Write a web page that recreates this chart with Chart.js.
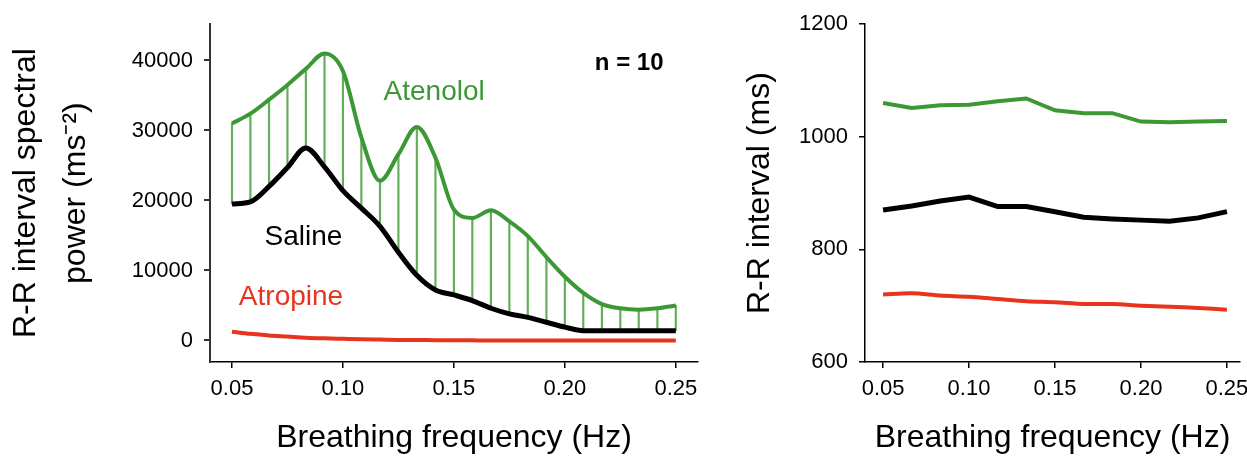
<!DOCTYPE html>
<html>
<head>
<meta charset="utf-8">
<script src="https://cdn.jsdelivr.net/npm/chart.js@4.4.0/dist/chart.umd.min.js"></script>
<style>
html, body { margin: 0; padding: 0; background: #fff; overflow: hidden; width: 1247px; height: 460px; }
#left { position: absolute; left: 0; top: 0; width: 720px; height: 460px; }
#right { position: absolute; left: 730px; top: 0; width: 550px; height: 460px; }
</style>
</head>
<body>
<div id="left"><canvas id="spectral"></canvas></div>
<div id="right"><canvas id="rrinterval"></canvas></div>
<script>
// left panel - spectral power, one sample every 1/120 Hz
var freqSpec = [0.0500, 0.0583, 0.0667, 0.0750, 0.0833, 0.0917, 0.1000, 0.1083, 0.1167, 0.1250,
                0.1333, 0.1417, 0.1500, 0.1583, 0.1667, 0.1750, 0.1833, 0.1917, 0.2000, 0.2083,
                0.2167, 0.2250, 0.2333, 0.2417, 0.2500];
var atenololSpec = [31000, 32400, 34400, 36500, 38800, 41000, 38500, 29000, 22800, 26600,
                    30500, 26100, 18700, 17500, 18600, 17000, 14900, 11900, 9100, 6800,
                    5200, 4600, 4400, 4600, 5000];
var salineSpec = [19500, 19800, 22000, 24700, 27500, 24800, 21400, 18900, 16300, 12600,
                  9300, 7200, 6500, 5700, 4600, 3800, 3300, 2600, 1900, 1400,
                  1400, 1400, 1400, 1400, 1400];
var atropineSpec = [1250, 950, 720, 560, 400, 300, 230, 160, 120, 80,
                    60, 40, 20, 10, 0, 0, 0, 0, 0, 0,
                    0, 0, 0, 0, 0];

// right panel - mean R-R interval
var freqRR = [0.05, 0.0667, 0.0833, 0.10, 0.1167, 0.1333, 0.15, 0.1667, 0.1833, 0.20, 0.2167, 0.2333, 0.25];
var atenololRR = [1060, 1051, 1056, 1057, 1063, 1068, 1047, 1042, 1042, 1027, 1026, 1027, 1028];
var salineRR = [870, 877, 886, 893, 876, 876, 867, 857, 854, 852, 850, 856, 867];
var atropineRR = [720, 722, 718, 716, 712, 708, 706, 703, 703, 700, 698, 696, 693];

// tick labels
var freqTicks = [0.05, 0.10, 0.15, 0.20, 0.25];
var specTicks = [0, 10000, 20000, 30000, 40000];
var rrTicks = [600, 800, 1000, 1200];

var GREEN = 'rgb(60,152,52)';
var HATCH = 'rgba(70,160,60,0.85)';
var RED = 'rgb(232,52,30)';
var FONT = "'Liberation Sans', Arial, sans-serif";

function pts(xs, ys) {
	return xs.map(function (x, i) { return { x: x, y: ys[i] }; });
}

// text labels placed in data coordinates
var textLabels = {
	id: 'textLabels',
	afterDatasetsDraw: function (chart, args, opts) {
		var ctx = chart.ctx;
		var xs = chart.scales.x, ys = chart.scales.y;
		ctx.save();
		ctx.textAlign = 'center';
		ctx.textBaseline = 'middle';
		(opts.items || []).forEach(function (t) {
			ctx.font = t.font;
			ctx.fillStyle = t.color;
			ctx.fillText(t.text, xs.getPixelForValue(t.x), ys.getPixelForValue(t.y));
		});
		ctx.restore();
	}
};

function xAxis(min, max) {
	return {
		type: 'linear',
		min: min,
		max: max,
		offset: false,
		afterBuildTicks: function (axis) { axis.ticks = freqTicks.map(function (v) { return { value: v }; }); },
		afterFit: function (axis) { axis.height = 98; },
		grid: { offset: false, drawOnChartArea: false, drawTicks: true, tickLength: 6, color: '#000', lineWidth: 1.5 },
		border: { display: true, color: '#000', width: 1.5 },
		ticks: {
			padding: 8,
			color: '#000',
			font: { family: FONT, size: 22 },
			callback: function (v) { return v.toFixed(2); }
		},
		title: {
			display: true,
			text: 'Breathing frequency (Hz)',
			color: '#000',
			font: { family: FONT, size: 32 },
			padding: { top: 0, bottom: 3 }
		}
	};
}

var lineOpts = { pointRadius: 0, fill: false, order: 1 };

new Chart(document.getElementById('spectral'), {
	data: {
		datasets: [
			Object.assign({ type: 'line', label: 'Atenolol', data: pts(freqSpec, atenololSpec), borderColor: GREEN, borderWidth: 4, cubicInterpolationMode: 'monotone' }, lineOpts),
			Object.assign({ type: 'line', label: 'Saline', data: pts(freqSpec, salineSpec), borderColor: '#000', borderWidth: 5, cubicInterpolationMode: 'monotone' }, lineOpts),
			Object.assign({ type: 'line', label: 'Atropine', data: pts(freqSpec, atropineSpec), borderColor: RED, borderWidth: 4, cubicInterpolationMode: 'monotone' }, lineOpts),
			{
				// hatching between saline and atenolol
				type: 'bar',
				label: 'difference',
				data: freqSpec.map(function (f, i) { return { x: f, y: [salineSpec[i], atenololSpec[i]] }; }),
				backgroundColor: HATCH,
				barThickness: 1.5,
				grouped: false,
				order: 10
			}
		]
	},
	options: {
		responsive: true,
		maintainAspectRatio: false,
		animation: false,
		layout: { padding: { left: 0, right: 22, top: 17, bottom: 0 } },
		plugins: {
			legend: { display: false },
			tooltip: { enabled: false },
			textLabels: {
				items: [
					{ text: 'n = 10', x: 0.229, y: 39650, color: '#000', font: 'bold 24px ' + FONT },
					{ text: 'Atenolol', x: 0.1411, y: 35400, color: GREEN, font: '28px ' + FONT },
					{ text: 'Saline', x: 0.0822, y: 14700, color: '#000', font: '28px ' + FONT },
					{ text: 'Atropine', x: 0.0766, y: 6150, color: RED, font: '28px ' + FONT }
				]
			}
		},
		scales: {
			x: xAxis(0.0401, 0.26),
			y: {
				type: 'linear',
				min: -3080,
				max: 45180,
				afterBuildTicks: function (axis) { axis.ticks = specTicks.map(function (v) { return { value: v }; }); },
				afterFit: function (axis) { axis.width = 210; },
				grid: { drawOnChartArea: false, drawTicks: true, tickLength: 6, color: '#333', lineWidth: 2 },
				border: { display: true, color: '#333', width: 2 },
				ticks: {
					padding: 11,
					color: '#000',
					font: { family: FONT, size: 22 },
					callback: function (v) { return String(v); }
				},
				title: {
					display: true,
					text: ['R-R interval spectral', 'power (ms\u207B\u00B2)'],
					color: '#000',
					font: { family: FONT, size: 32, lineHeight: 1.5625 },
					padding: { top: 1, bottom: 0 }
				}
			}
		}
	},
	plugins: [textLabels]
});

new Chart(document.getElementById('rrinterval'), {
	type: 'line',
	data: {
		datasets: [
			Object.assign({ label: 'Atenolol', data: pts(freqRR, atenololRR), borderColor: GREEN, borderWidth: 4, tension: 0 }, lineOpts),
			Object.assign({ label: 'Saline', data: pts(freqRR, salineRR), borderColor: '#000', borderWidth: 5, tension: 0 }, lineOpts),
			Object.assign({ label: 'Atropine', data: pts(freqRR, atropineRR), borderColor: RED, borderWidth: 4, tension: 0.3 }, lineOpts)
		]
	},
	options: {
		responsive: true,
		maintainAspectRatio: false,
		animation: false,
		layout: { padding: { left: 0, right: 40, top: 17, bottom: 0 } },
		plugins: {
			legend: { display: false },
			tooltip: { enabled: false }
		},
		scales: {
			x: xAxis(0.0395, 0.2576),
			y: {
				type: 'linear',
				min: 600,
				max: 1200,
				afterBuildTicks: function (axis) { axis.ticks = rrTicks.map(function (v) { return { value: v }; }); },
				afterFit: function (axis) { axis.width = 135; },
				grid: { drawOnChartArea: false, drawTicks: true, tickLength: 6, color: '#000', lineWidth: 1.5 },
				border: { display: true, color: '#000', width: 1.5 },
				ticks: {
					padding: 11,
					color: '#000',
					font: { family: FONT, size: 22 },
					callback: function (v) { return String(v); }
				},
				title: {
					display: true,
					text: 'R-R interval (ms)',
					color: '#000',
					font: { family: FONT, size: 32 },
					padding: { top: 11, bottom: 0 }
				}
			}
		}
	}
});
</script>
</body>
</html>
